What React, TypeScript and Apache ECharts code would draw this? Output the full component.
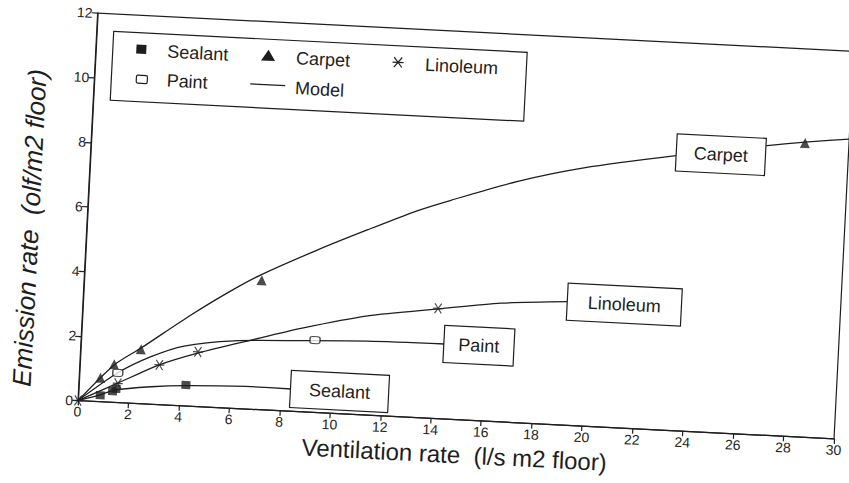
import React, { useEffect, useRef } from "react";
import * as echarts from "echarts";

// ---- data (x: ventilation rate, y: emission rate) ----
const carpetPoints = [[0.84, 0.74], [1.36, 1.18], [2.39, 1.68], [7.03, 4.0], [28.26, 9.09]];
const sealantPoints = [[0.87, 0.2], [1.35, 0.34], [1.48, 0.42], [4.24, 0.65]];
const paintPoints = [[1.52, 0.92], [9.26, 2.24]];
const linoleumPoints = [[0, 0], [1.54, 0.59], [3.15, 1.23], [4.65, 1.69], [14.07, 3.41]];

const carpetModel = [[0, 0], [1.35, 1.15], [2.39, 1.72], [4.3, 2.82], [5.9, 3.66], [6.99, 4.17], [9.19, 5.03], [11.13, 5.73], [13.07, 6.4], [14.36, 6.77], [16.97, 7.46], [19.56, 7.98], [23.18, 8.5], [26.76, 8.95], [28.26, 9.12], [30, 9.28]];
const linoleumModel = [[0, 0], [1.54, 0.6], [3.15, 1.23], [4.71, 1.67], [6.73, 2.14], [8.68, 2.58], [11.3, 3.07], [14.12, 3.4], [16.55, 3.67], [19.19, 3.82]];
const paintModel = [[0, 0], [1.52, 0.92], [2.8, 1.47], [4.09, 1.85], [6.05, 2.09], [8.71, 2.2], [11.35, 2.29], [14.39, 2.32]];
const sealantModel = [[0, 0], [0.87, 0.21], [1.41, 0.38], [2.86, 0.54], [4.25, 0.63], [6.82, 0.7], [8.41, 0.69]];

const carpetLabelAt = [24.95, 8.6];

const xMin = 0, xMax = 30, xStep = 2;
const yMin = 0, yMax = 12, yStep = 2;

const xTitle = "Ventilation rate  (l/s m2 floor)";
const yTitle = "Emission rate  (olf/m2 floor)";
const legendNames = ["Sealant", "Carpet", "Linoleum", "Paint", "Model"];

const INK = "#1e1e1e";
const FONT = '"Liberation Sans", Arial, Helvetica, sans-serif';
const STAR = "path://M0,5L10,5M1.6,0.8L8.4,9.2M1.6,9.2L8.4,0.8";

function boxLabel(text: string, padH: number) {
  return {
    show: true,
    formatter: text,
    fontSize: 18,
    fontFamily: FONT,
    color: INK,
    backgroundColor: "#fff",
    borderColor: INK,
    borderWidth: 1.2,
    padding: [9, padH, 9, padH],
  };
}

function modelSeries(name: string, data: number[][], extra: any = {}) {
  return {
    name: name + " model",
    type: "line",
    data,
    smooth: 0.25,
    showSymbol: false,
    symbol: "none",
    lineStyle: { color: INK, width: 1.3 },
    z: 2,
    ...extra,
  };
}

function pointSeries(name: string, data: number[][], symbol: string, size: any, itemStyle: any) {
  return { name, type: "scatter", data, symbol, symbolSize: size, itemStyle, z: 3 };
}

function legendGraphic() {
  const txt = (t: string, x: number, y: number) => ({
    type: "text",
    style: { text: t, x, y, font: `18px ${FONT}`, fill: INK, verticalAlign: "middle", align: "left" },
  });
  const r1 = 46.5, r2 = 76.5;
  return {
    type: "group",
    children: [
      { type: "rect", shape: { x: 95, y: 30, width: 414, height: 69 }, style: { fill: "#fff", stroke: INK, lineWidth: 1.2 } },
      { type: "rect", shape: { x: 118.5, y: r1 - 4.5, width: 10, height: 9 }, style: { fill: INK } },
      txt(legendNames[0], 149.5, r1 + 1),
      { type: "polygon", shape: { points: [[250.6, r1 - 6], [257.6, r1 + 5], [243.6, r1 + 5]] }, style: { fill: INK } },
      txt(legendNames[1], 278.5, r1 + 1),
      { type: "line", shape: { x1: 375, y1: r1, x2: 386, y2: r1 }, style: { stroke: INK, lineWidth: 1.2 } },
      { type: "line", shape: { x1: 376.5, y1: r1 - 5, x2: 384.5, y2: r1 + 5 }, style: { stroke: INK, lineWidth: 1.2 } },
      { type: "line", shape: { x1: 376.5, y1: r1 + 5, x2: 384.5, y2: r1 - 5 }, style: { stroke: INK, lineWidth: 1.2 } },
      txt(legendNames[2], 407.6, r1 + 1),
      { type: "rect", shape: { x: 120, y: r2 - 4, width: 11, height: 8, r: 1.5 }, style: { fill: "#fff", stroke: INK, lineWidth: 1.2 } },
      txt(legendNames[3], 150.4, r2),
      { type: "line", shape: { x1: 234, y1: r2 - 1, x2: 269, y2: r2 - 1 }, style: { stroke: INK, lineWidth: 1.3 } },
      txt(legendNames[4], 278.9, r2 + 1),
    ],
  };
}

export default function App() {
  const ref = useRef<HTMLDivElement>(null);
  useEffect(() => {
    const chart = echarts.init(ref.current!, null, { renderer: "svg" });
    const axisCommon = {
      type: "value",
      axisLine: { show: true, lineStyle: { color: INK, width: 1.2 } },
      axisTick: { show: true, inside: false, length: 5, lineStyle: { color: INK, width: 1.2 } },
      splitLine: { show: false },
      axisLabel: { color: INK, fontSize: 14, fontFamily: FONT },
      nameLocation: "middle",
    };
    chart.setOption({
      animation: false,
      backgroundColor: "#fff",
      textStyle: { fontFamily: FONT },
      grid: { left: 77, top: 12.5, width: 758, height: 388, show: true, borderColor: INK, borderWidth: 1.2, containLabel: false },
      xAxis: {
        ...axisCommon,
        min: xMin, max: xMax, interval: xStep,
        axisLabel: { ...axisCommon.axisLabel, margin: 4 },
        name: xTitle,
        nameGap: 23,
        nameTextStyle: { fontSize: 24, color: INK, fontFamily: FONT, verticalAlign: "top" },
      },
      yAxis: {
        ...axisCommon,
        min: yMin, max: yMax, interval: yStep,
        axisTick: { ...axisCommon.axisTick, length: 6 },
        axisLabel: { ...axisCommon.axisLabel, margin: 5 },
        name: yTitle,
        nameGap: 44,
        nameRotate: 90,
        nameTextStyle: { fontSize: 26, fontStyle: "italic", color: INK, fontFamily: FONT, padding: [0, 48, 0, 0] },
      },
      graphic: [legendGraphic()],
      series: [
        modelSeries("Carpet", carpetModel, {
          markPoint: {
            symbol: "rect",
            symbolSize: 1,
            itemStyle: { color: "rgba(0,0,0,0)" },
            label: { ...boxLabel("Carpet", 17), position: "inside" },
            data: [{ coord: carpetLabelAt }],
            z: 5,
          },
        }),
        modelSeries("Linoleum", linoleumModel, { endLabel: { ...boxLabel("Linoleum", 20), distance: 0 } }),
        modelSeries("Paint", paintModel, { endLabel: { ...boxLabel("Paint", 14), distance: 0 } }),
        modelSeries("Sealant", sealantModel, { endLabel: { ...boxLabel("Sealant", 18), distance: 0 } }),
        pointSeries("Sealant", sealantPoints, "rect", [9, 8], { color: INK }),
        pointSeries("Carpet", carpetPoints, "triangle", 10, { color: INK }),
        pointSeries("Paint", paintPoints, "roundRect", [10, 7], { color: "#fff", borderColor: INK, borderWidth: 1.2 }),
        pointSeries("Linoleum", linoleumPoints, STAR, 10, { color: INK, borderColor: INK, borderWidth: 1.2 }),
      ],
    });
    return () => chart.dispose();
  }, []);
  return (
    <div style={{ position: "absolute", left: 0, top: 0, width: 849, height: 483, overflow: "hidden", background: "#fff" }}>
      <div
        ref={ref}
        style={{ width: 849, height: 483, transform: "rotate(2.9deg)", transformOrigin: "77px 400.5px" }}
      />
    </div>
  );
}
